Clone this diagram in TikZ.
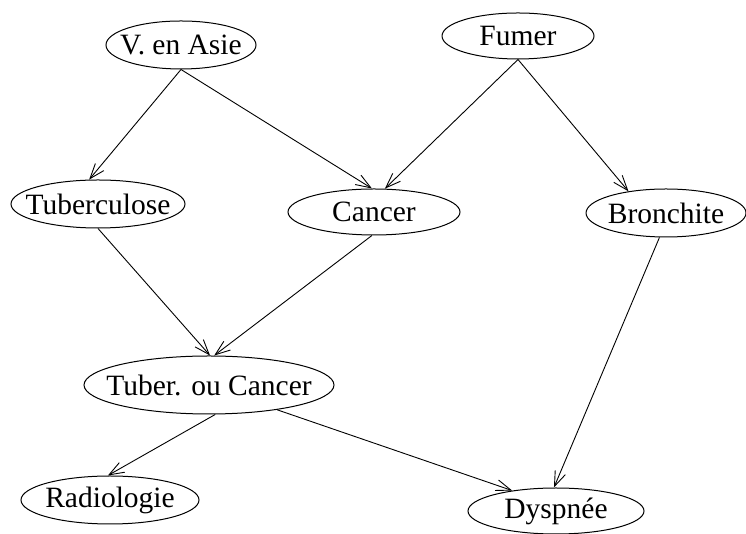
\documentclass[tikz,border=0pt]{standalone}
\usepackage{fontspec}
\setmainfont{Liberation Serif}
\usetikzlibrary{shapes.geometric,arrows.meta}
\begin{document}
\begin{tikzpicture}[>={Straight Barb[length=15pt,width=11pt]},x=1pt,y=1pt,
	etat/.style={draw,ellipse,inner xsep=-30pt,inner ysep=-10pt,line width=1pt,font=\fontsize{29.5}{33}\selectfont},
	lien/.style={->,line width=0.9pt}]
		\useasboundingbox (0,0) rectangle (746,534);
		\node[etat,minimum width=150pt,minimum height=48pt] (asie) at (181,489) {V. en Asie};
		\node[etat,minimum width=152pt,minimum height=46pt] (fumer) at (518,498) {Fumer};
		\node[etat,minimum width=174pt,minimum height=48pt] (tub) at (98,330) {Tuberculose};
		\node[etat,minimum width=172pt,minimum height=46pt] (cancer) at (374,322) {Cancer};
		\node[etat,minimum width=160pt,minimum height=48pt] (bronch) at (666,321) {Bronchite};
		\node[etat,minimum width=250pt,minimum height=58pt] (tubcan) at (209,149) {Tuber. ou Cancer};
		\node[etat,minimum width=178pt,minimum height=48pt] (radio) at (110,34) {Radiologie};
		\node[etat,minimum width=176pt,minimum height=46pt] (dysp) at (556,23) {Dyspnée};
		\draw[lien] (asie.south) -- (tub.110);
		\draw[lien] (asie.south) -- (cancer.95);
		\draw[lien] (fumer.south) -- (cancer.65);
		\draw[lien] (fumer.south) -- (bronch.150);
		\draw[lien] (tub.south) -- (tubcan.88);
		\draw[lien] (cancer.265) -- (tubcan.80);
		\draw[lien] (tubcan.282) -- (radio.95);
		\draw[lien] (tubcan.340) -- (dysp.155);
		\draw[lien] (bronch.255) -- (dysp.95);
	\end{tikzpicture}
\end{document}
